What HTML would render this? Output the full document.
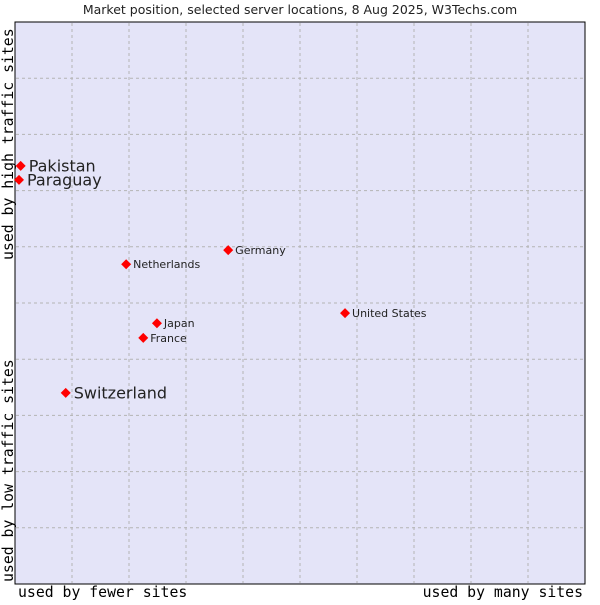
<!DOCTYPE html>
<html><head><meta charset="utf-8"><style>
body{margin:0;background:#fff;width:600px;height:600px;overflow:hidden}
svg text{font-family:"DejaVu Sans","Liberation Sans",sans-serif;fill:#222}
.mono{font-family:"DejaVu Sans Mono","Liberation Mono",monospace;font-size:14.8px;fill:#000}
</style></head><body>
<svg id="chart" width="600" height="600">
<text x="300" y="14" text-anchor="middle" font-size="12.5">Market position, selected server locations, 8 Aug 2025, W3Techs.com</text>
<rect x="15" y="22" width="570" height="562" fill="#e4e4f8" stroke="#000" stroke-width="1"/>
<g id="grid"></g>
<g id="points"></g>
<text class="mono" x="18" y="597">used by fewer sites</text>
<text class="mono" x="583" y="597" text-anchor="end">used by many sites</text>
<text class="mono" transform="translate(13,582) rotate(-90)">used by low traffic sites</text>
<text class="mono" transform="translate(13,260) rotate(-90)">used by high traffic sites</text>
</svg>
<script>
const countries=["Pakistan","Paraguay","Germany","Netherlands","United States","Japan","France","Switzerland"];
const xValues=[0.1,0.07,3.74,1.95,5.79,2.49,2.25,0.89];
const yValues=[7.44,7.19,5.94,5.69,4.82,4.64,4.38,3.40];
const bigLabel=[true,true,false,false,false,false,false,true];
const NS="http://www.w3.org/2000/svg";
const X0=15,Y0=584,UX=57,UY=56.2;
const xs=v=>X0+v*UX, ys=v=>Y0-v*UY;
const grid=document.getElementById('grid');
for(let i=1;i<10;i++){
  const lv=document.createElementNS(NS,'line');
  lv.setAttribute('x1',xs(i));lv.setAttribute('x2',xs(i));lv.setAttribute('y1',23);lv.setAttribute('y2',583);
  lv.setAttribute('stroke','#b4b4b4');lv.setAttribute('stroke-dasharray','3,3');
  
  
  grid.appendChild(lv);
  const lh=document.createElementNS(NS,'line');
  lh.setAttribute('y1',ys(i));lh.setAttribute('y2',ys(i));lh.setAttribute('x1',16);lh.setAttribute('x2',584);
  lh.setAttribute('stroke','#b4b4b4');lh.setAttribute('stroke-dasharray','3,3');
  
  
  grid.appendChild(lh);
}
const pts=document.getElementById('points');
countries.forEach((c,i)=>{
  const x=xs(xValues[i]),y=ys(yValues[i]);
  const p=document.createElementNS(NS,'path');
  p.setAttribute('d',`M${x},${y-5}L${x+5},${y}L${x},${y+5}L${x-5},${y}Z`);
  p.setAttribute('fill','#f00');
  
  
  pts.appendChild(p);
  const t=document.createElementNS(NS,'text');
  const big=bigLabel[i];
  t.setAttribute('x',x+(big?8:7));t.setAttribute('y',y+(big?5.5:4));
  t.setAttribute('font-size',big?16:11);
  t.textContent=c;
  
  
  pts.appendChild(t);
});
</script>
</body></html>
